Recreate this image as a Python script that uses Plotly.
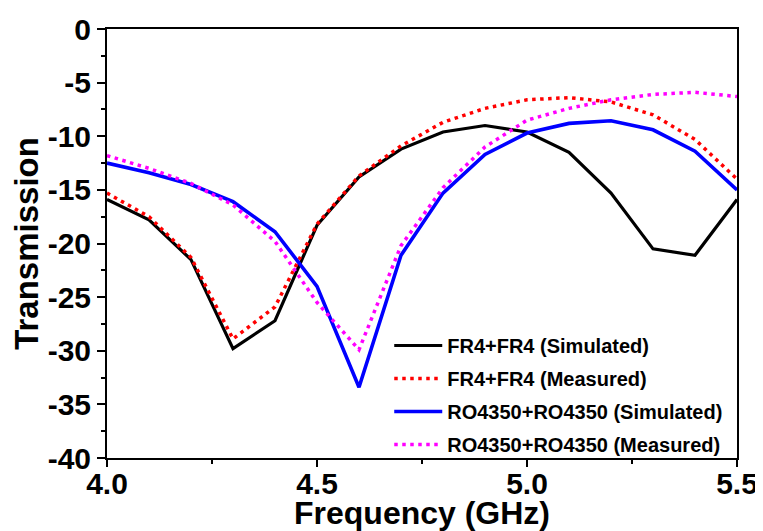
import plotly.graph_objects as go

freq = [4.0, 4.1, 4.2, 4.3, 4.4, 4.5, 4.6, 4.7, 4.8, 4.9, 5.0, 5.1, 5.2, 5.3, 5.4, 5.5]

fr4_sim = [-15.9, -17.8, -21.5, -29.8, -27.2, -18.3, -13.8, -11.2, -9.6, -9.0, -9.6, -11.5, -15.3, -20.5, -21.1, -15.9]
fr4_meas = [-15.3, -17.5, -21.3, -28.9, -25.9, -18.2, -13.7, -10.9, -8.7, -7.4, -6.6, -6.4, -6.8, -8.0, -10.3, -14.0]
ro_sim = [-12.5, -13.4, -14.5, -16.1, -18.9, -24.0, -33.4, -21.1, -15.3, -11.7, -9.7, -8.8, -8.55, -9.4, -11.4, -15.0]
ro_meas = [-11.8, -13.0, -14.4, -16.4, -19.8, -25.5, -29.9, -20.2, -14.8, -11.0, -8.5, -7.4, -6.6, -6.1, -5.9, -6.3]

names = ["FR4+FR4 (Simulated)", "FR4+FR4 (Measured)",
         "RO4350+RO4350 (Simulated)", "RO4350+RO4350 (Measured)"]

x_ticks = [4.0, 4.5, 5.0, 5.5]
y_ticks = [0, -5, -10, -15, -20, -25, -30, -35, -40]

font_family = "Liberation Sans, Arial, sans-serif"

fig = go.Figure()
fig.add_trace(go.Scatter(x=freq, y=fr4_sim, mode="lines", name=names[0], legendgroup="a",
                         line=dict(color="#000000", width=3.2)))
fig.add_trace(go.Scatter(x=freq, y=fr4_meas, mode="lines", name=names[1], legendgroup="b",
                         line=dict(color="#FF0000", width=3.5, dash="3.5px,4.5px")))
fig.add_trace(go.Scatter(x=freq, y=ro_sim, mode="lines", name=names[2], legendgroup="c",
                         line=dict(color="#0000FF", width=3.6)))
fig.add_trace(go.Scatter(x=freq, y=ro_meas, mode="lines", name=names[3], legendgroup="d",
                         line=dict(color="#FF00FF", width=3.5, dash="3.5px,4.5px")))

fig.update_layout(
    width=755, height=523,
    margin=dict(l=99, r=26, t=21, b=73, autoexpand=False),
    paper_bgcolor="white", plot_bgcolor="white",
    font=dict(family=font_family, color="black"),
    showlegend=True,
    legend=dict(
        x=0.448, y=-0.014, xanchor="left", yanchor="bottom",
        bgcolor="rgba(0,0,0,0)", borderwidth=0,
        font=dict(size=20, family=font_family, color="black", weight="bold"),
        tracegroupgap=4, traceorder="grouped", itemwidth=48,
    ),
    xaxis=dict(
        range=[4.0, 5.5], tickvals=x_ticks, ticktext=[f"{v:.1f}" for v in x_ticks],
        showgrid=False, zeroline=False, automargin=False,
        showline=True, linecolor="black", linewidth=2, mirror=True,
        ticks="outside", ticklen=7, tickwidth=1.5, tickcolor="black",
        ticklabelstandoff=-9,
        minor=dict(ticks="outside", ticklen=4, tickwidth=1.5, tickcolor="black", dtick=0.25, tick0=4.0),
        tickfont=dict(size=30, family=font_family, color="black", weight="bold"),
        title=dict(text="Frequency (GHz)", standoff=0,
                   font=dict(size=32, family=font_family, color="black", weight="bold")),
    ),
    yaxis=dict(
        range=[-40, 0], tickvals=y_ticks, ticktext=[str(v) for v in y_ticks],
        showgrid=False, zeroline=False, automargin=False,
        showline=True, linecolor="black", linewidth=2, mirror=True,
        ticks="outside", ticklen=8, tickwidth=1.5, tickcolor="black",
        minor=dict(ticks="outside", ticklen=4, tickwidth=1.5, tickcolor="black", dtick=2.5, tick0=0),
        tickfont=dict(size=30, family=font_family, color="black", weight="bold"),
        title=dict(text="Transmission", standoff=4,
                   font=dict(size=33, family=font_family, color="black", weight="bold")),
    ),
)

fig.write_html("out.html")
